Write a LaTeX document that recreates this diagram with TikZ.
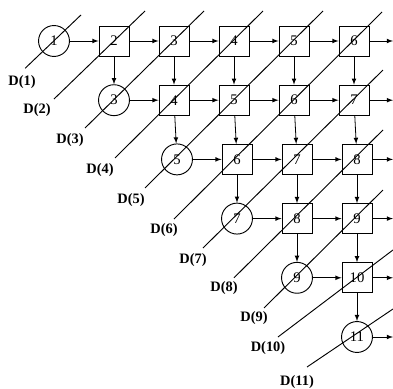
\documentclass[tikz,border=0pt]{standalone}
\usepackage{fontspec}
\setmainfont{Liberation Serif}
\usepackage{tikz}

\tikzset{
  sq/.style={draw, line width=0.7pt, minimum size=22.5pt, inner sep=0pt, font=\fontsize{11}{13}\selectfont},
  circ/.style={draw, circle, line width=0.7pt, minimum size=23.2pt, inner sep=0pt, font=\fontsize{11}{13}\selectfont},
  diag/.style={line width=0.7pt},
  dlabel/.style={font=\bfseries\fontsize{10.8}{12}\selectfont, inner sep=0pt},
  flow/.style={->, >=latex, line width=0.6pt}
}

\begin{document}
\begin{tikzpicture}[x=45pt, y=44.4pt]
\useasboundingbox (-0.9,-5.878) rectangle (5.65,0.6926);

% anti-diagonal lines D(k)
\draw[diag] (-0.48,-0.46) -- (0.45,0.44);
\draw[diag] (0,-0.98) -- (1.517,0.507);
\draw[diag] (0.517,-1.47) -- (2.5,0.507);
\draw[diag] (1.017,-1.976) -- (3.483,0.507);
\draw[diag] (1.517,-2.483) -- (4.483,0.507);
\draw[diag] (2.0,-3.007) -- (5.467,0.49);
\draw[diag] (2.483,-3.497) -- (5.483,-0.49);
\draw[diag] (3.0,-4.0) -- (5.483,-1.503);
\draw[diag] (3.5,-4.51) -- (5.483,-2.517);
\draw[diag] (3.733,-5.0) -- (5.65,-3.53);
\draw[diag] (4.217,-5.507) -- (5.65,-4.527);

\node[dlabel] (d1) at (-0.533,-0.693) {D(1)};
\node[dlabel] (d2) at (-0.283,-1.166) {D(2)};
\node[dlabel] (d3) at (0.267,-1.672) {D(3)};
\node[dlabel] (d4) at (0.767,-2.179) {D(4)};
\node[dlabel] (d5) at (1.283,-2.686) {D(5)};
\node[dlabel] (d6) at (1.833,-3.193) {D(6)};
\node[dlabel] (d7) at (2.317,-3.699) {D(7)};
\node[dlabel] (d8) at (2.833,-4.172) {D(8)};
\node[dlabel] (d9) at (3.333,-4.679) {D(9)};
\node[dlabel] (d10) at (3.567,-5.186) {D(10)};
\node[dlabel] (d11) at (4.05,-5.76) {D(11)};

% row 0
\node[circ] (n00) at (0,0) {1};
\node[sq] (n01) at (1,0) {2};
\node[sq] (n02) at (2,0) {3};
\node[sq] (n03) at (3,0) {4};
\node[sq] (n04) at (4,0) {5};
\node[sq] (n05) at (5,0) {6};
% row 1
\node[circ] (n11) at (1,-1) {3};
\node[sq] (n12) at (2,-1) {4};
\node[sq] (n13) at (3,-1) {5};
\node[sq] (n14) at (4,-1) {6};
\node[sq] (n15) at (5,-1) {7};
% row 2
\node[circ] (n22) at (2.05,-2) {5};
\node[sq] (n23) at (3.05,-2) {6};
\node[sq] (n24) at (4.05,-2) {7};
\node[sq] (n25) at (5.05,-2) {8};
% row 3
\node[circ] (n33) at (3.05,-3) {7};
\node[sq] (n34) at (4.05,-3) {8};
\node[sq] (n35) at (5.05,-3) {9};
% row 4
\node[circ] (n44) at (4.05,-4) {9};
\node[sq] (n45) at (5.05,-4) {10};
% row 5
\node[circ] (n55) at (5.05,-5) {11};

% right edge
\coordinate (e0) at (5.65,0);
\coordinate (e1) at (5.65,-1);
\coordinate (e2) at (5.65,-2);
\coordinate (e3) at (5.65,-3);
\coordinate (e4) at (5.65,-4);
\coordinate (e5) at (5.65,-5);

% horizontal arrows
\draw[flow] (n00) -- (n01);
\draw[flow] (n01) -- (n02);
\draw[flow] (n02) -- (n03);
\draw[flow] (n03) -- (n04);
\draw[flow] (n04) -- (n05);
\draw[flow] (n05) -- (e0);
\draw[flow] (n11) -- (n12);
\draw[flow] (n12) -- (n13);
\draw[flow] (n13) -- (n14);
\draw[flow] (n14) -- (n15);
\draw[flow] (n15) -- (e1);
\draw[flow] (n22) -- (n23);
\draw[flow] (n23) -- (n24);
\draw[flow] (n24) -- (n25);
\draw[flow] (n25) -- (e2);
\draw[flow] (n33) -- (n34);
\draw[flow] (n34) -- (n35);
\draw[flow] (n35) -- (e3);
\draw[flow] (n44) -- (n45);
\draw[flow] (n45) -- (e4);
\draw[flow] (n55) -- (e5);

% vertical arrows
\draw[flow] (n01) -- (n11);
\draw[flow] (n02) -- (n12);
\draw[flow] (n03) -- (n13);
\draw[flow] (n04) -- (n14);
\draw[flow] (n05) -- (n15);
\draw[flow] (n12) -- (n22);
\draw[flow] (n13) -- (n23);
\draw[flow] (n14) -- (n24);
\draw[flow] (n15) -- (n25);
\draw[flow] (n23) -- (n33);
\draw[flow] (n24) -- (n34);
\draw[flow] (n25) -- (n35);
\draw[flow] (n34) -- (n44);
\draw[flow] (n35) -- (n45);
\draw[flow] (n45) -- (n55);
\end{tikzpicture}
\end{document}
